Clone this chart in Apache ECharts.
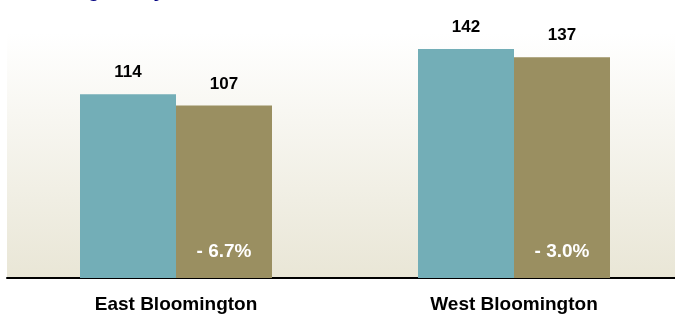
<!DOCTYPE html>
<html>
<head>
<meta charset="utf-8">
<script src="https://cdn.jsdelivr.net/npm/echarts@6/dist/echarts.min.js"></script>
<style>
  html, body { margin: 0; padding: 0; background: #fff; }
  #chart { width: 675px; height: 316px; }
</style>
</head>
<body>
<div id="chart"></div>
<script>
// valores
const categorias = ['East Bloomington', 'West Bloomington'];
const anteriores = [114, 142];
const atuais = [107, 137];
const variacoes = ['- 6.7%', '- 3.0%'];
const titulo = 'Average Daily Census';

const chart = echarts.init(document.getElementById('chart'));

const fonte = 'Liberation Sans, Arial, sans-serif';

chart.setOption({
  animation: false,
  graphic: [{
    type: 'text',
    left: 33,
    top: -19,
    style: { text: titulo, font: 'bold 20px Liberation Sans', fill: '#000080' }
  }],
  grid: {
    left: 7, top: 33, width: 676, height: 245,
    outerBoundsMode: 'none',
    containLabel: false,
    show: true, borderWidth: 0,
    backgroundColor: new echarts.graphic.LinearGradient(0, 0, 0, 1, [
      { offset: 0, color: '#ffffff' },
      { offset: 1, color: '#e9e6d6' }
    ])
  },
  xAxis: [{
    type: 'category',
    data: categorias,
    axisLine: { lineStyle: { color: '#000', width: 2 } },
    axisTick: { length: 6, lineStyle: { color: '#808080', width: 2 } },
    axisLabel: { margin: 17, color: '#000', fontFamily: fonte, fontWeight: 'bold', fontSize: 19 }
  }, {
    type: 'category',
    data: categorias,
    show: false
  }],
  yAxis: { type: 'value', min: 0, max: 152, show: false, splitLine: { show: false } },
  series: [{
    type: 'bar',
    data: anteriores,
    barWidth: 96,
    barGap: '0%',
    itemStyle: { color: '#73aeb7' },
    label: { show: true, position: 'top', distance: 13, color: '#000', fontFamily: fonte, fontWeight: 'bold', fontSize: 17 }
  }, {
    type: 'bar',
    data: atuais,
    barWidth: 96,
    barGap: '0%',
    itemStyle: { color: '#9a8f61' },
    label: { show: true, position: 'top', distance: 13, color: '#000', fontFamily: fonte, fontWeight: 'bold', fontSize: 17 }
  }, {
    // barras fantasmas só para posicionar os rótulos de variação
    type: 'bar',
    xAxisIndex: 1,
    data: anteriores,
    barWidth: 96,
    barGap: '0%',
    silent: true,
    itemStyle: { color: 'transparent' }
  }, {
    type: 'bar',
    xAxisIndex: 1,
    data: atuais,
    barWidth: 96,
    barGap: '0%',
    silent: true,
    itemStyle: { color: 'transparent' },
    label: {
      show: true, position: 'insideBottom', distance: 17,
      formatter: p => variacoes[p.dataIndex],
      color: '#fff', fontFamily: fonte, fontWeight: 'bold', fontSize: 19
    }
  }]
});
</script>
</body>
</html>
